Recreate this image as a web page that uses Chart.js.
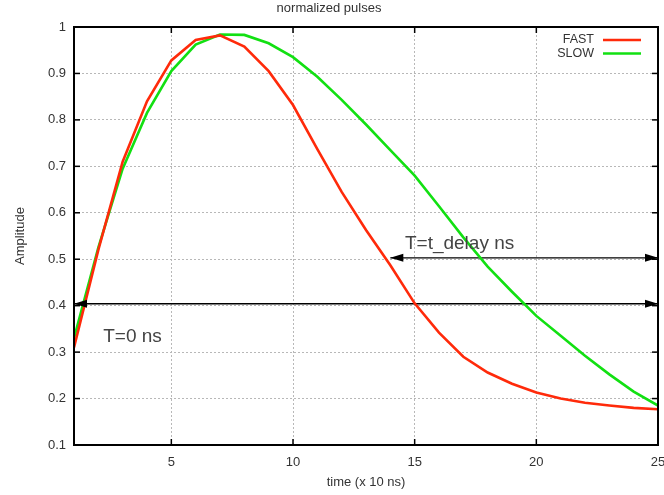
<!DOCTYPE html>
<html>
<head>
<meta charset="utf-8">
<title>normalized pulses</title>
<script src="https://cdn.jsdelivr.net/npm/chart.js@4.4.1/dist/chart.umd.min.js"></script>
<style>
  html, body { margin: 0; padding: 0; background: #fff; }
  canvas { display: block; }
</style>
</head>
<body>
<canvas id="pulses" width="664" height="495"></canvas>
<script>
// time axis, in units of 10 ns
const times = [1, 2, 3, 4, 5, 6, 7, 8, 9, 10, 11, 12, 13, 14, 15, 16, 17, 18, 19, 20, 21, 22, 23, 24, 25];
const fast = [0.31, 0.52, 0.71, 0.84, 0.928, 0.972, 0.982, 0.958, 0.905, 0.832, 0.737, 0.645, 0.563, 0.487, 0.405,
              0.342, 0.29, 0.256, 0.232, 0.213, 0.2, 0.191, 0.185, 0.18, 0.177];
const slow = [0.33, 0.525, 0.695, 0.815, 0.905, 0.962, 0.984, 0.983, 0.965, 0.935, 0.893, 0.843, 0.79, 0.735, 0.68,
              0.614, 0.547, 0.484, 0.43, 0.378, 0.335, 0.292, 0.252, 0.215, 0.185];
const xTicks = [5, 10, 15, 20, 25];
const yTicks = [0.1, 0.2, 0.3, 0.4, 0.5, 0.6, 0.7, 0.8, 0.9, 1];

// marker arrows: level, start and end time
const arrowLevels = [0.404, 0.503];
const arrowStarts = [1, 14];
const arrowEnds = [25, 25];
const arrowLabels = ['T=0 ns', 'T=t_delay ns'];
const labelTimes = [2.2, 14.6];
const labelLevels = [0.322, 0.521];

const FONT = "'Liberation Sans', Arial, sans-serif";
const RED = '#ff2a0a';
const GREEN = '#12e012';

const toPoints = (ys) => times.map((t, i) => ({ x: t, y: ys[i] }));

const datasets = [
    { label: 'FAST', data: toPoints(fast), borderColor: RED, borderWidth: 2.6 },
    { label: 'SLOW', data: toPoints(slow), borderColor: GREEN, borderWidth: 2.6 }
];
arrowLevels.forEach((lvl, i) => {
    datasets.push({
        label: arrowLabels[i],
        data: [{ x: arrowStarts[i], y: lvl }, { x: arrowEnds[i], y: lvl }],
        borderColor: '#000',
        borderWidth: 1.4
    });
});

function arrowHead(ctx, tipX, py, dir) {
    ctx.beginPath();
    ctx.moveTo(tipX, py);
    ctx.lineTo(tipX - dir * 13, py - 4);
    ctx.lineTo(tipX - dir * 13, py + 4);
    ctx.closePath();
    ctx.fill();
}

function seg(ctx, x1, y1, x2, y2) {
    ctx.beginPath();
    ctx.moveTo(x1, y1);
    ctx.lineTo(x2, y2);
    ctx.stroke();
}

// gnuplot look: frame with inward ticks, arrow heads, labels, legend in the corner
const gnuplotBits = {
    id: 'gnuplotBits',
    afterDatasetsDraw(chart) {
        const { ctx, chartArea: a, scales: { x, y } } = chart;
        ctx.save();

        ctx.fillStyle = '#000';
        arrowLevels.forEach((lvl, i) => {
            const py = y.getPixelForValue(lvl);
            arrowHead(ctx, x.getPixelForValue(arrowStarts[i]), py, -1);
            arrowHead(ctx, x.getPixelForValue(arrowEnds[i]), py, 1);
        });

        ctx.fillStyle = '#444';
        ctx.font = '19px ' + FONT;
        ctx.textAlign = 'left';
        ctx.textBaseline = 'alphabetic';
        arrowLabels.forEach((txt, i) => {
            ctx.fillText(txt, x.getPixelForValue(labelTimes[i]), y.getPixelForValue(labelLevels[i]));
        });

        ctx.strokeStyle = '#000';
        ctx.lineWidth = 2;
        ctx.strokeRect(a.left, a.top, a.width, a.height);

        ctx.lineWidth = 1.5;
        xTicks.forEach(v => {
            const px = x.getPixelForValue(v);
            seg(ctx, px, a.bottom, px, a.bottom - 6);
            seg(ctx, px, a.top, px, a.top + 6);
        });
        yTicks.forEach(v => {
            const py = y.getPixelForValue(v);
            seg(ctx, a.left, py, a.left + 6, py);
            seg(ctx, a.right, py, a.right - 6, py);
        });

        // legend
        ctx.font = '12.5px ' + FONT;
        ctx.textAlign = 'right';
        ctx.textBaseline = 'middle';
        ctx.lineWidth = 2.6;
        [['FAST', RED], ['SLOW', GREEN]].forEach(([name, col], i) => {
            const ly = a.top + 13 + i * 13.5;
            ctx.fillStyle = '#333';
            ctx.fillText(name, a.right - 64, ly);
            ctx.strokeStyle = col;
            seg(ctx, a.right - 55, ly, a.right - 17, ly);
        });

        ctx.restore();
    }
};

new Chart(document.getElementById('pulses'), {
    type: 'line',
    data: { datasets },
    options: {
        responsive: false,
        animation: false,
        layout: { padding: { left: 0, right: 6, top: 0, bottom: 0 } },
        elements: {
            point: { radius: 0 },
            line: { tension: 0, fill: false }
        },
        plugins: {
            legend: { display: false },
            tooltip: { enabled: false },
            title: {
                display: true,
                text: 'normalized pulses',
                color: '#333',
                font: { family: FONT, size: 13, weight: 'normal' },
                padding: { top: 1, bottom: 10.4 }
            }
        },
        scales: {
            x: {
                type: 'linear',
                min: 1,
                max: 25,
                afterBuildTicks: (scale) => { scale.ticks = xTicks.map(v => ({ value: v })); },
                afterFit: (scale) => {
                    scale.height = 50;
                    // let the last label run off the edge, as in the original
                    scale.paddingLeft = 0;
                    scale.paddingRight = 0;
                },
                ticks: { color: '#333', font: { family: FONT, size: 13 }, padding: 10, maxRotation: 0 },
                grid: { color: '#b8b8b8', lineWidth: 1, drawTicks: false },
                border: { display: false, dash: [2, 2] },
                title: {
                    display: true,
                    text: 'time (x 10 ns)',
                    color: '#333',
                    font: { family: FONT, size: 13 },
                    padding: { top: 0, bottom: 5 }
                }
            },
            y: {
                min: 0.1,
                max: 1,
                afterBuildTicks: (scale) => { scale.ticks = yTicks.map(v => ({ value: v })); },
                afterFit: (scale) => { scale.width = 74; },
                ticks: {
                    color: '#333',
                    font: { family: FONT, size: 13 },
                    padding: 8,
                    callback: (v) => String(+v.toFixed(1))
                },
                grid: { color: '#b8b8b8', lineWidth: 1, drawTicks: false },
                border: { display: false, dash: [2, 2] },
                title: {
                    display: true,
                    text: 'Amplitude',
                    color: '#333',
                    font: { family: FONT, size: 13 },
                    padding: { top: 13, bottom: 0 }
                }
            }
        }
    },
    plugins: [gnuplotBits]
});
</script>
</body>
</html>
